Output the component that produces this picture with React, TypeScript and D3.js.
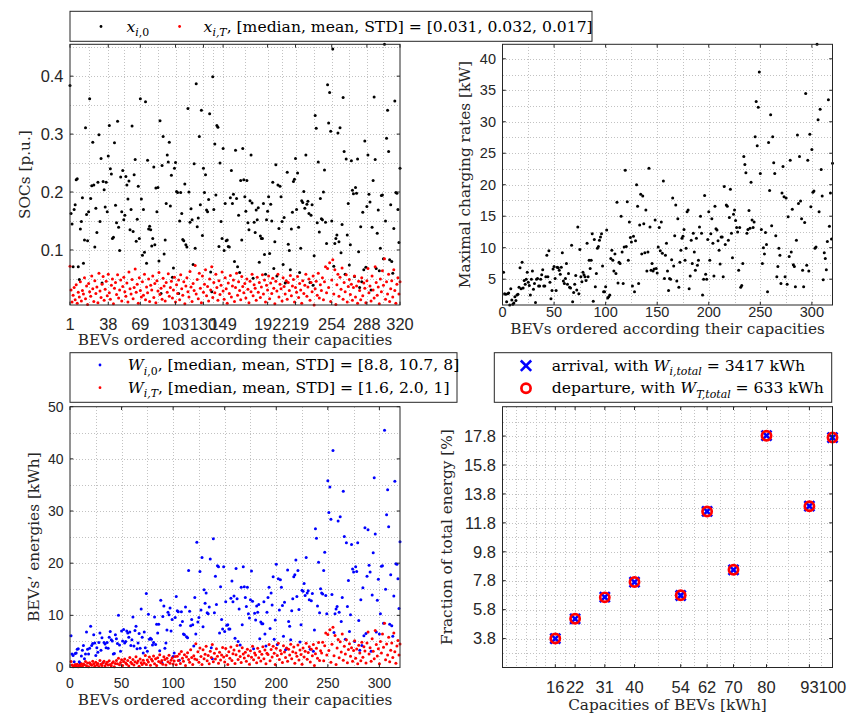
import React from 'react';
import * as d3 from 'd3';

// ---------------- data ----------------
// SOC at arrival x_{i,0} (BEVs ordered by capacity)
const SOC_ARRIVAL = [
  .384,.163,.145,.071,.170,.178,.221,.223,.071,.049,
  .136,.149,.190,.077,.117,.311,.161,.116,.166,.361,
  .189,.211,.286,.212,.105,.172,.130,.217,.299,.149,
  .258,.043,.218,.204,.174,.217,.166,.262,.315,.240,
  .231,.120,.122,.285,.177,.147,.322,.139,.099,.226,
  .166,.237,.152,.160,.227,.212,.188,.219,.135,.170,
  .314,.132,.230,.256,.115,.153,.210,.120,.361,.188,
  .091,.170,.096,.356,.077,.255,.136,.141,.135,.107,
  .120,.243,.109,.207,.166,.208,.081,.323,.025,.246,
  .296,.093,.117,.180,.264,.252,.286,.176,.229,.053,
  .069,.241,.251,.201,.199,.025,.150,.199,.163,.118,
  .116,.214,.109,.105,.344,.200,.148,.171,.152,.075,
  .249,.103,.387,.140,.155,.296,.178,.341,.125,.241,
  .199,.230,.169,.166,.187,.335,.062,.028,.399,.170,
  .283,.195,.315,.312,.106,.250,.149,.120,.275,.099,
  .180,.116,.117,.106,.105,.190,.237,.180,.196,.080,
  .272,.189,.071,.160,.061,.220,.117,.275,.221,.192,
  .167,.220,.147,.135,.185,.264,.181,.051,.148,.130,
  .169,.152,.173,.079,.124,.120,.120,.180,.092,.058,
  .152,.167,.192,.094,.179,.150,.217,.068,.114,.247,
  .055,.212,.137,.210,.192,.149,.075,.156,.043,.045,
  .234,.110,.099,.066,.136,.165,.218,.222,.258,.170,
  .233,.139,.061,.103,.185,.182,.201,.172,.264,.179,
  .184,.163,.044,.160,.178,.039,.090,.332,.310,.147,
  .252,.131,.189,.154,.152,.200,.238,.148,.111,.385,
  .319,.372,.305,.150,.447,.072,.111,.120,.126,.302,
  .114,.311,.095,.144,.363,.270,.058,.257,.126,.180,
  .074,.109,.254,.203,.197,.054,.208,.198,.257,.097,
  .035,.140,.045,.165,.066,.288,.070,.175,.264,.196,
  .183,.031,.139,.220,.364,.256,.068,.129,.169,.064,
  .103,.194,.195,.085,.455,.150,.293,.341,.270,.083,
  .178,.080,.060,.137,.357,.199,.198,.170,.113,.241,
];

// SOC at departure x_{i,T}
const SOC_DEPARTURE = [
  .072,.031,.010,.022,.035,.014,.040,.008,.027,.019,
  .045,.012,.030,.024,.052,.016,.038,.006,.042,.028,
  .020,.055,.033,.011,.047,.025,.036,.009,.060,.029,
  .018,.041,.054,.013,.032,.046,.021,.058,.026,.015,
  .039,.050,.007,.034,.044,.023,.057,.017,.031,.048,
  .012,.037,.053,.028,.020,.043,.010,.062,.033,.024,
  .049,.016,.035,.067,.027,.041,.008,.052,.030,.019,
  .045,.022,.058,.014,.036,.026,.050,.011,.039,.031,
  .055,.018,.042,.009,.047,.029,.061,.023,.034,.015,
  .051,.038,.012,.044,.027,.059,.020,.035,.046,.017,
  .031,.053,.010,.040,.025,.048,.014,.057,.033,.022,
  .045,.007,.038,.052,.028,.019,.063,.036,.011,.042,
  .030,.073,.024,.049,.016,.060,.034,.009,.055,.027,
  .041,.066,.021,.037,.012,.050,.031,.071,.018,.044,
  .026,.058,.035,.013,.047,.023,.039,.062,.029,.015,
  .052,.033,.008,.043,.025,.056,.019,.038,.048,.011,
  .035,.060,.022,.045,.030,.014,.054,.037,.026,.042,
  .017,.050,.032,.009,.046,.028,.058,.021,.040,.034,
  .013,.053,.027,.044,.018,.036,.057,.024,.048,.010,
  .039,.031,.055,.016,.043,.025,.051,.034,.007,.046,
  .029,.058,.019,.041,.033,.012,.052,.037,.024,.047,
  .015,.044,.030,.056,.021,.038,.049,.010,.035,.027,
  .054,.018,.042,.031,.008,.047,.025,.039,.058,.020,
  .036,.050,.013,.044,.028,.055,.005,.033,.046,.022,
  .060,.017,.040,.030,.052,.014,.045,.071,.026,.068,
  .035,.078,.011,.048,.083,.024,.066,.006,.040,.058,
  .020,.053,.032,.069,.015,.044,.028,.057,.010,.037,
  .049,.023,.041,.013,.035,.055,.019,.038,.008,.046,
  .030,.014,.052,.021,.043,.034,.009,.047,.068,.026,
  .038,.012,.055,.031,.017,.071,.044,.022,.036,.007,
  .050,.028,.064,.039,.085,.015,.045,.024,.058,.011,
  .033,.047,.019,.066,.030,.008,.041,.052,.024,.045,
];

// Maximal charging rates [kW]
const MAX_CHARGING_RATE = [
  6.1,2.7,2.6,1.4,2.7,2.8,0.9,3.5,1.7,1.0,
  1.2,2.2,1.6,2.5,2.6,3.7,6.8,3.5,7.7,3.6,
  4.8,4.2,5.0,6.1,4.5,4.0,2.5,5.0,6.3,3.4,
  4.3,1.3,5.0,5.1,3.9,3.9,5.0,5.7,6.5,3.9,
  3.9,5.4,8.8,5.4,9.5,4.5,1.9,3.2,6.6,7.0,
  5.1,3.2,6.9,6.8,6.4,5.8,6.9,9.2,4.7,4.3,
  5.1,7.5,4.2,5.9,3.7,3.6,10.4,1.4,2.9,4.2,
  5.6,3.3,13.3,2.7,9.7,5.4,4.6,6.1,5.7,5.4,
  4.8,10.7,5.4,8.0,6.7,8.0,12.2,1.5,11.3,3.8,
  5.9,9.9,10.2,11.2,11.7,12.2,7.1,3.0,3.0,3.8,
  12.8,2.0,2.2,2.5,8.3,9.6,8.0,6.3,9.0,5.9,
  17.2,4.4,7.7,7.5,15.0,9.3,4.3,10.1,22.3,10.2,
  17.3,8.0,14.1,11.6,10.9,3.9,11.8,3.0,11.1,20.0,
  16.6,4.3,13.6,18.5,9.0,18.2,13.8,9.2,16.0,6.3,
  9.3,22.6,13.3,6.4,7.5,6.3,6.6,14.4,6.7,6.0,
  10.1,13.2,9.5,14.1,9.1,20.6,5.1,8.8,10.7,6.3,
  3.2,5.1,5.0,8.1,17.9,7.1,11.9,16.8,4.7,14.6,
  3.7,7.7,9.6,11.5,11.8,12.9,8.0,9.9,15.7,16.0,
  3.5,5.5,11.2,7.5,12.3,9.3,6.4,11.5,7.2,8.0,
  13.3,15.0,12.3,2.5,5.0,18.3,5.8,5.0,11.3,15.7,
  8.0,12.2,14.6,10.7,5.5,16.6,13.0,12.8,11.1,9.6,
  7.4,11.7,11.7,5.4,19.7,10.5,16.8,16.6,11.2,14.8,
  19.3,12.3,8.4,15.3,16.0,14.3,13.2,12.5,6.4,13.2,
  3.7,4.0,7.5,24.5,23.2,21.9,12.3,12.9,15.9,13.1,
  20.4,14.4,13.2,14.1,27.6,33.2,26.2,32.3,37.9,21.8,
  12.9,7.5,10.0,9.0,12.4,10.5,3.0,26.7,19.1,31.1,
  13.5,27.6,23.5,21.8,11.9,5.4,7.0,9.9,8.8,4.3,
  18.7,22.9,18.1,5.4,17.9,4.2,14.9,8.6,23.9,9.3,
  16.1,7.3,7.0,3.8,11.2,27.9,17.0,24.5,17.4,14.6,
  6.4,3.8,14.0,34.5,7.2,23.9,6.3,28.0,16.5,25.6,
  18.8,19.0,9.9,10.1,42.3,30.3,15.7,32.0,22.4,18.2,
  4.9,9.2,8.3,6.5,11.0,33.5,13.4,18.7,11.4,23.4,
];

// Energies at arrival W_{i,0} [kWh]
const ENERGY_ARRIVAL = [
  6.1,2.6,2.3,1.1,2.7,2.8,3.5,3.6,1.1,0.8,
  2.2,3.3,4.2,1.7,2.6,6.8,3.5,2.6,3.7,7.9,
  4.2,4.6,6.3,4.7,2.3,3.8,2.9,4.8,6.6,3.3,
  5.7,0.9,4.8,4.5,3.8,4.8,3.7,5.8,6.9,5.3,
  5.1,2.6,2.7,6.3,5.5,4.6,10.0,4.3,3.1,7.0,
  5.1,7.3,4.7,5.0,7.0,6.6,5.8,6.8,4.2,5.3,
  9.7,4.1,7.1,7.9,3.6,4.7,6.5,3.7,11.2,5.8,
  2.8,6.8,3.8,14.2,3.1,10.2,5.4,5.6,5.4,4.3,
  4.8,9.7,4.4,8.3,6.6,8.3,3.2,12.9,1.0,9.8,
  11.8,3.7,4.7,7.2,10.6,10.1,11.4,7.0,9.2,2.1,
  2.8,9.6,13.6,10.9,10.7,1.4,8.1,10.7,8.8,6.4,
  6.3,11.6,5.9,5.7,18.6,10.8,8.0,9.2,8.2,4.1,
  13.4,6.4,24.0,8.7,9.6,18.4,11.0,21.1,7.8,14.9,
  12.3,14.3,10.5,10.3,11.6,20.8,3.8,1.7,24.7,10.5,
  17.5,12.1,19.5,19.3,6.6,15.5,9.2,7.4,19.3,6.9,
  12.6,8.1,8.2,7.4,7.4,13.3,16.6,12.6,13.7,5.6,
  19.0,13.2,5.0,11.2,4.3,15.4,8.2,19.3,15.5,13.4,
  11.7,15.4,10.3,9.5,13.0,18.5,12.7,3.6,10.4,9.1,
  11.8,10.6,12.1,5.5,8.7,8.4,8.4,12.6,6.4,4.1,
  10.6,13.4,15.4,7.5,14.3,12.0,17.4,5.4,9.1,19.8,
  4.4,17.0,11.0,16.8,15.4,11.9,6.0,12.5,3.4,3.6,
  18.7,8.8,7.9,5.3,10.9,13.2,17.4,17.8,20.6,13.6,
  18.6,11.1,4.9,8.2,14.8,14.6,16.1,13.8,21.1,14.3,
  14.7,13.0,3.5,12.8,14.2,3.1,7.2,26.6,24.8,11.8,
  20.2,10.5,15.1,14.3,14.1,18.6,22.1,13.8,10.3,35.8,
  29.7,34.6,28.4,14.0,41.6,6.7,10.3,11.2,11.7,28.1,
  10.6,28.9,8.8,13.4,33.8,25.1,5.4,23.9,11.7,16.7,
  6.9,10.1,23.6,18.9,18.3,5.0,19.3,18.4,23.9,9.0,
  3.3,13.0,4.2,15.3,6.1,26.8,6.5,17.5,26.4,19.6,
  18.3,3.1,13.9,22.0,36.4,25.6,6.8,12.9,16.9,6.4,
  10.3,19.4,19.5,8.5,45.5,15.0,29.3,34.1,27.0,8.3,
  17.8,8.0,6.0,13.7,35.7,19.9,19.8,17.0,11.3,24.1,
];

// Energies at departure W_{i,T} [kWh]
const ENERGY_DEPARTURE = [
  1.15,0.50,0.16,0.35,0.56,0.22,0.64,0.13,0.43,0.30,
  0.72,0.26,0.66,0.53,1.14,0.35,0.84,0.13,0.92,0.62,
  0.44,1.21,0.73,0.24,1.03,0.55,0.79,0.20,1.32,0.64,
  0.40,0.90,1.19,0.29,0.70,1.01,0.46,1.28,0.57,0.33,
  0.86,1.10,0.15,0.75,1.36,0.71,1.77,0.53,0.96,1.49,
  0.37,1.15,1.64,0.87,0.62,1.33,0.31,1.92,1.02,0.74,
  1.52,0.50,1.09,2.08,0.84,1.27,0.25,1.61,0.93,0.59,
  1.40,0.88,2.32,0.56,1.44,1.04,2.00,0.44,1.56,1.24,
  2.20,0.72,1.68,0.36,1.88,1.16,2.44,0.92,1.36,0.60,
  2.04,1.52,0.48,1.76,1.08,2.36,0.80,1.40,1.84,0.68,
  1.24,2.12,0.54,2.16,1.35,2.59,0.76,3.08,1.78,1.19,
  2.43,0.38,2.05,2.81,1.51,1.03,3.40,1.94,0.59,2.27,
  1.62,4.53,1.49,3.04,0.99,3.72,2.11,0.56,3.41,1.67,
  2.54,4.09,1.30,2.29,0.74,3.10,1.92,4.40,1.12,2.73,
  1.61,3.60,2.17,0.81,2.91,1.43,2.42,3.84,2.03,1.05,
  3.64,2.31,0.56,3.01,1.75,3.92,1.33,2.66,3.36,0.77,
  2.45,4.20,1.54,3.15,2.10,0.98,3.78,2.59,1.82,2.94,
  1.19,3.50,2.24,0.63,3.22,1.96,4.06,1.47,2.80,2.38,
  0.91,3.71,1.89,3.08,1.26,2.52,3.99,1.68,3.36,0.70,
  2.73,2.48,4.40,1.28,3.44,2.00,4.08,2.72,0.56,3.68,
  2.32,4.64,1.52,3.28,2.64,0.96,4.16,2.96,1.92,3.76,
  1.20,3.52,2.40,4.48,1.68,3.04,3.92,0.80,2.80,2.16,
  4.32,1.44,3.36,2.48,0.64,3.76,2.00,3.12,4.64,1.60,
  2.88,4.00,1.04,3.52,2.24,4.40,0.40,2.64,3.68,1.76,
  4.80,1.36,3.20,2.79,4.84,1.30,4.19,6.60,2.42,6.32,
  3.26,7.25,1.02,4.46,7.72,2.23,6.14,0.56,3.72,5.39,
  1.86,4.93,2.98,6.42,1.40,4.09,2.60,5.30,0.93,3.44,
  4.56,2.14,3.81,1.21,3.26,5.12,1.77,3.53,0.74,4.28,
  2.79,1.30,4.84,1.95,4.00,3.16,0.84,4.70,6.80,2.60,
  3.80,1.20,5.50,3.10,1.70,7.10,4.40,2.20,3.60,0.70,
  5.00,2.80,6.40,3.90,8.50,1.50,4.50,2.40,5.80,1.10,
  3.30,4.70,1.90,6.60,3.00,0.80,4.10,5.20,2.40,4.50,
];

const SOC_INDEX_TICKS = [1, 38, 69, 103, 130, 149, 192, 219, 254, 288, 320];
const SOC_TICKS = [0.1, 0.2, 0.3, 0.4];
const INDEX_TICKS = [0, 50, 100, 150, 200, 250, 300];
const RATE_TICKS = [5, 10, 15, 20, 25, 30, 35, 40];
const ENERGY_TICKS = [0, 10, 20, 30, 40, 50];
const CAPACITIES = [16, 22, 31, 40, 54, 62, 70, 80, 93, 100];
const FRACTION_ARRIVAL = [3.80, 5.16, 6.66, 7.70, 6.78, 12.59, 8.55, 17.83, 12.96, 17.69];
const FRACTION_DEPARTURE = [3.80, 5.17, 6.65, 7.71, 6.79, 12.58, 8.56, 17.82, 12.95, 17.70];
const FRACTION_TICKS = [3.8, 5.8, 7.8, 9.8, 11.8, 13.8, 15.8, 17.8];

// ---------------- style ----------------
const SANS = '"Liberation Sans", Arial, Helvetica, sans-serif';
const SERIF = '"DejaVu Serif", "Liberation Serif", serif';
const AX = '#262626';
const GRID = '#c2c2c2';
const LABEL_FS = 15.3;
const LEGEND_FS = 15.6;

const LEFT = { x0: 70, x1: 400 };
const RIGHT = { x0: 502.5, x1: 832.5 };
const TOP = { y0: 44.3, y1: 305 };
const BOTTOM = { y0: 406.7, y1: 667.5 };

function minorOf(major: number[], lo: number, hi: number) {
  const out: number[] = [];
  for (let i = 0; i < major.length - 1; i++) out.push((major[i] + major[i + 1]) / 2);
  const h0 = (major[1] - major[0]) / 2;
  for (let v = major[0] - h0; v > lo + 1e-6; v -= h0) out.push(v);
  const n = major.length;
  const h1 = (major[n - 1] - major[n - 2]) / 2;
  for (let v = major[n - 1] + h1; v < hi - 1e-6; v += h1) out.push(v);
  return out;
}

type Seg = { t: string; it?: boolean; sub?: boolean };

function MathText({ x, y, segs, size, fill = '#000' }: { x: number; y: number; segs: Seg[]; size: number; fill?: string }) {
  let shifted = false;
  const sh = size * 0.3;
  return (
    <text x={x} y={y} fontFamily={SERIF} fontSize={size} fill={fill} style={{ whiteSpace: 'pre' }}>
      {segs.map((s, k) => {
        let dy = 0;
        if (s.sub && !shifted) { dy = sh; shifted = true; }
        else if (!s.sub && shifted) { dy = -sh; shifted = false; }
        return (
          <tspan key={k} dy={dy} fontStyle={s.it ? 'italic' : 'normal'} fontSize={s.sub ? size * 0.7 : size}>
            {s.t}
          </tspan>
        );
      })}
    </text>
  );
}

type AxProps = {
  box: { x0: number; x1: number; y0: number; y1: number };
  xs: d3.ScaleLinear<number, number>;
  ys: d3.ScaleLinear<number, number>;
  xt: number[];
  yt: number[];
  xfmt: (v: number) => string;
  yfmt: (v: number) => string;
  fs: number;
  xTickBase: number;
  xLabel: string;
  xLabelBase: number;
  yLabel: string;
  yLabelX: number;
};

function Grid({ box, xs, ys, xt, yt }: AxProps) {
  const [xlo, xhi] = xs.domain();
  const [ylo, yhi] = ys.domain();
  const xv = [...xt, ...minorOf(xt, xlo, xhi)];
  const yv = [...yt, ...minorOf(yt, ylo, yhi)];
  return (
    <g stroke={GRID} strokeWidth={1} strokeDasharray="1 2" shapeRendering="crispEdges">
      {xv.map((v, i) => {
        const x = Math.round(xs(v)) + 0.5;
        if (x <= box.x0 + 1 || x >= box.x1 - 1) return null;
        return <line key={'x' + i} x1={x} x2={x} y1={box.y0} y2={box.y1} />;
      })}
      {yv.map((v, i) => {
        const y = Math.round(ys(v)) + 0.5;
        if (y <= box.y0 + 1 || y >= box.y1 - 1) return null;
        return <line key={'y' + i} x1={box.x0} x2={box.x1} y1={y} y2={y} />;
      })}
    </g>
  );
}

function Frame(p: AxProps) {
  const { box, xs, ys, xt, yt, fs } = p;
  const tl = 3.3;
  return (
    <g>
      <rect x={box.x0} y={box.y0} width={box.x1 - box.x0} height={box.y1 - box.y0} fill="none" stroke={AX} strokeWidth={1} />
      <g stroke={AX} strokeWidth={1}>
        {xt.map((v, i) => (
          <g key={'xt' + i}>
            <line x1={xs(v)} x2={xs(v)} y1={box.y1} y2={box.y1 - tl} />
            <line x1={xs(v)} x2={xs(v)} y1={box.y0} y2={box.y0 + tl} />
          </g>
        ))}
        {yt.map((v, i) => (
          <g key={'yt' + i}>
            <line x1={box.x0} x2={box.x0 + tl} y1={ys(v)} y2={ys(v)} />
            <line x1={box.x1} x2={box.x1 - tl} y1={ys(v)} y2={ys(v)} />
          </g>
        ))}
      </g>
      <g fontFamily={SANS} fontSize={fs} fill={AX}>
        {xt.map((v, i) => (
          <text key={'xl' + i} x={xs(v)} y={p.xTickBase} textAnchor="middle">{p.xfmt(v)}</text>
        ))}
        {yt.map((v, i) => (
          <text key={'yl' + i} x={box.x0 - 6.5} y={ys(v) + fs * 0.35} textAnchor="end">{p.yfmt(v)}</text>
        ))}
      </g>
      <text x={(box.x0 + box.x1) / 2} y={p.xLabelBase} textAnchor="middle" fontFamily={SERIF} fontSize={LABEL_FS} fill={AX}>
        {p.xLabel}
      </text>
      <text
        transform={`translate(${p.yLabelX},${(box.y0 + box.y1) / 2}) rotate(-90)`}
        textAnchor="middle"
        fontFamily={SERIF}
        fontSize={LABEL_FS}
        fill={AX}
      >
        {p.yLabel}
      </text>
    </g>
  );
}

export default function App() {
  const idx = (i: number) => i + 1;
  const f1 = d3.format('.1f');
  const fInt = d3.format('d');

  // Panel 1: SOCs
  const b1 = { ...LEFT, ...TOP };
  const socExtent = d3.extent([...SOC_ARRIVAL, ...SOC_DEPARTURE]) as [number, number];
  const xs1 = d3.scaleLinear().domain([1, SOC_ARRIVAL.length]).range([b1.x0, b1.x1]);
  const ys1 = d3.scaleLinear().domain(socExtent).range([b1.y1, b1.y0]);
  const p1: AxProps = {
    box: b1, xs: xs1, ys: ys1, xt: SOC_INDEX_TICKS, yt: SOC_TICKS, xfmt: fInt, yfmt: f1, fs: 16.4,
    xTickBase: 329.5, xLabel: 'BEVs ordered according their capacities', xLabelBase: 345,
    yLabel: 'SOCs [p.u.]', yLabelX: 30,
  };

  // Panel 2: maximal charging rates
  const b2 = { ...RIGHT, ...TOP };
  const rateExtent = d3.extent(MAX_CHARGING_RATE) as [number, number];
  const xs2 = d3.scaleLinear().domain([0, MAX_CHARGING_RATE.length]).range([b2.x0, b2.x1]);
  const ys2 = d3.scaleLinear().domain(rateExtent).range([b2.y1, b2.y0]);
  const p2: AxProps = {
    box: b2, xs: xs2, ys: ys2, xt: INDEX_TICKS, yt: RATE_TICKS, xfmt: fInt, yfmt: fInt, fs: 14.5,
    xTickBase: 316.5, xLabel: 'BEVs ordered according their capacities', xLabelBase: 334,
    yLabel: 'Maximal charging rates [kW]', yLabelX: 470,
  };

  // Panel 3: energies
  const b3 = { ...LEFT, ...BOTTOM };
  const xs3 = d3.scaleLinear().domain([0, ENERGY_ARRIVAL.length]).range([b3.x0, b3.x1]);
  const ys3 = d3.scaleLinear().domain([0, 50]).range([b3.y1, b3.y0]);
  const p3: AxProps = {
    box: b3, xs: xs3, ys: ys3, xt: INDEX_TICKS, yt: ENERGY_TICKS, xfmt: fInt, yfmt: fInt, fs: 14,
    xTickBase: 687.5, xLabel: 'BEVs ordered according their capacities', xLabelBase: 705,
    yLabel: 'BEVs\u2019 energies [kWh]', yLabelX: 38.5,
  };

  // Panel 4: fraction of total energy
  const b4 = { ...RIGHT, ...BOTTOM };
  const fMax = d3.max([...FRACTION_ARRIVAL, ...FRACTION_DEPARTURE]) as number;
  const fMin = d3.min([...FRACTION_ARRIVAL, ...FRACTION_DEPARTURE]) as number;
  const xs4 = d3.scaleLinear().domain([0, 100]).range([b4.x0, b4.x1]);
  const ys4 = d3.scaleLinear().domain([fMin - 2, fMax + 2]).range([b4.y1, b4.y0]);
  const p4: AxProps = {
    box: b4, xs: xs4, ys: ys4, xt: CAPACITIES, yt: FRACTION_TICKS, xfmt: fInt, yfmt: f1, fs: 16.5,
    xTickBase: 692.5, xLabel: 'Capacities of BEVs [kWh]', xLabelBase: 710,
    yLabel: 'Fraction of total energy [%]', yLabelX: 451.5,
  };

  const dotR = 1.5;
  const xArm = 5;

  const cross = (cx: number, cy: number, k: string, a = xArm) => (
    <g key={k} stroke="#0000ff" strokeWidth={2.6} strokeLinecap="butt">
      <line x1={cx - a} y1={cy - a} x2={cx + a} y2={cy + a} />
      <line x1={cx - a} y1={cy + a} x2={cx + a} y2={cy - a} />
    </g>
  );

  return (
    <svg
      width={847}
      height={718}
      viewBox="0 0 847 718"
      style={{ position: 'absolute', left: 0, top: 0, background: '#fff' }}
    >
      <rect x={0} y={0} width={847} height={718} fill="#fff" />

      {/* Panel 1 */}
      <Grid {...p1} />
      <g>
        {SOC_ARRIVAL.map((v, i) => <circle key={'a' + i} cx={xs1(idx(i))} cy={ys1(v)} r={dotR} fill="#000" />)}
        {SOC_DEPARTURE.map((v, i) => <circle key={'d' + i} cx={xs1(idx(i))} cy={ys1(v)} r={dotR} fill="#ff0000" />)}
      </g>
      <Frame {...p1} />

      {/* Panel 2 */}
      <Grid {...p2} />
      <g>
        {MAX_CHARGING_RATE.map((v, i) => <circle key={'r' + i} cx={xs2(idx(i))} cy={ys2(v)} r={dotR} fill="#000" />)}
      </g>
      <Frame {...p2} />

      {/* Panel 3 */}
      <Grid {...p3} />
      <g>
        {ENERGY_ARRIVAL.map((v, i) => <circle key={'ea' + i} cx={xs3(idx(i))} cy={ys3(v)} r={dotR} fill="#0000ff" />)}
        {ENERGY_DEPARTURE.map((v, i) => <circle key={'ed' + i} cx={xs3(idx(i))} cy={ys3(v)} r={dotR} fill="#ff0000" />)}
      </g>
      <Frame {...p3} />

      {/* Panel 4 */}
      <Grid {...p4} />
      <g>
        {FRACTION_ARRIVAL.map((v, i) => cross(xs4(CAPACITIES[i]), ys4(v), 'fa' + i))}
        {FRACTION_DEPARTURE.map((v, i) => (
          <circle key={'fd' + i} cx={xs4(CAPACITIES[i])} cy={ys4(v)} r={4.6} fill="none" stroke="#ff0000" strokeWidth={2.7} />
        ))}
      </g>
      <Frame {...p4} />

      {/* Legend top */}
      <g>
        <rect x={70} y={11.3} width={522} height={30} fill="#fff" stroke={AX} strokeWidth={1} />
        <circle cx={101} cy={26.5} r={1.4} fill="#000" />
        <MathText x={126.5} y={31.5} size={LEGEND_FS} segs={[{ t: 'x', it: true }, { t: 'i', it: true, sub: true }, { t: ',0', sub: true }]} />
        <circle cx={179.6} cy={26.5} r={1.4} fill="#ff0000" />
        <MathText
          x={203.6}
          y={31.5}
          size={LEGEND_FS}
          segs={[
            { t: 'x', it: true },
            { t: 'i,T', it: true, sub: true },
            { t: ', [median, mean, STD] = [0.031, 0.032, 0.017]' },
          ]}
        />
      </g>

      {/* Legend bottom-left */}
      <g>
        <rect x={70} y={352.7} width={387} height={49.6} fill="#fff" stroke={AX} strokeWidth={1} />
        <circle cx={100} cy={365} r={1.4} fill="#0000ff" />
        <MathText
          x={127.7}
          y={370}
          size={LEGEND_FS}
          segs={[{ t: 'W', it: true }, { t: 'i', it: true, sub: true }, { t: ',0', sub: true }, { t: ', [median, mean, STD] = [8.8, 10.7, 8]' }]}
        />
        <circle cx={100} cy={387.7} r={1.4} fill="#ff0000" />
        <MathText
          x={127.7}
          y={392.7}
          size={LEGEND_FS}
          segs={[{ t: 'W', it: true }, { t: 'i,T', it: true, sub: true }, { t: ', [median, mean, STD] = [1.6, 2.0, 1]' }]}
        />
      </g>

      {/* Legend bottom-right */}
      <g>
        <rect x={494.3} y={352.7} width={337.4} height={49.6} fill="#fff" stroke={AX} strokeWidth={1} />
        {cross(526, 365.7, 'lx', 5.2)}
        <MathText
          x={551.7}
          y={370.7}
          size={LEGEND_FS}
          segs={[{ t: 'arrival, with ' }, { t: 'W', it: true }, { t: 'i,total', it: true, sub: true }, { t: ' = 3417 kWh' }]}
        />
        <circle cx={526} cy={388.3} r={4.6} fill="none" stroke="#ff0000" strokeWidth={2.7} />
        <MathText
          x={551.7}
          y={393.3}
          size={LEGEND_FS}
          segs={[{ t: 'departure, with ' }, { t: 'W', it: true }, { t: 'T,total', it: true, sub: true }, { t: ' = 633 kWh' }]}
        />
      </g>
    </svg>
  );
}
